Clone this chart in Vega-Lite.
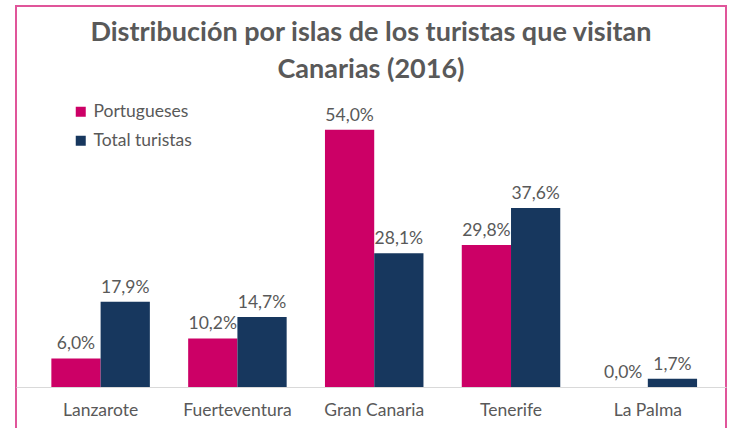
{
  "$schema": "https://vega.github.io/schema/vega-lite/v6.json",
  "autosize": "none",
  "width": 710,
  "height": 440,
  "padding": {"left": 16, "top": 6, "right": 11, "bottom": 0},
  "background": "white",
  "config": {
    "locale": {"number": {"decimal": ",", "thousands": ".", "grouping": [3], "currency": ["", " €"]}},
    "view": {"stroke": "#E0559A", "strokeWidth": 2},
    "font": "Lato"
  },
  "title": {
    "text": ["Distribución por islas de los turistas que visitan", "Canarias (2016)"],
    "anchor": "middle",
    "frame": "group",
    "orient": "top",
    "offset": -78,
    "fontSize": 27,
    "fontWeight": "bold",
    "color": "#595959",
    "font": "Lato",
    "lineHeight": 37,
    "baseline": "top"
  },
  "data": {
    "values": [
      {"isla": "Lanzarote", "serie": "Portugueses", "valor": 0.060},
      {"isla": "Lanzarote", "serie": "Total turistas", "valor": 0.179},
      {"isla": "Fuerteventura", "serie": "Portugueses", "valor": 0.102},
      {"isla": "Fuerteventura", "serie": "Total turistas", "valor": 0.147},
      {"isla": "Gran Canaria", "serie": "Portugueses", "valor": 0.540},
      {"isla": "Gran Canaria", "serie": "Total turistas", "valor": 0.281},
      {"isla": "Tenerife", "serie": "Portugueses", "valor": 0.298},
      {"isla": "Tenerife", "serie": "Total turistas", "valor": 0.376},
      {"isla": "La Palma", "serie": "Portugueses", "valor": 0.000},
      {"isla": "La Palma", "serie": "Total turistas", "valor": 0.017}
    ]
  },
  "encoding": {
    "x": {
      "field": "isla",
      "type": "nominal",
      "sort": null,
      "scale": {"paddingInner": 0.28, "paddingOuter": 0.235, "align": 0.55},
      "axis": {
        "title": null,
        "orient": "bottom",
        "offset": -59,
        "labelAngle": 0,
        "labelFontSize": 17.5,
        "labelColor": "#595959",
        "labelFont": "Lato",
        "labelPadding": 14,
        "ticks": false,
        "domainColor": "#D9D9D9",
        "domainWidth": 1
      }
    },
    "xOffset": {"field": "serie", "type": "nominal", "sort": ["Portugueses", "Total turistas"], "scale": {"paddingInner": 0}},
    "y": {
      "field": "valor",
      "type": "quantitative",
      "scale": {"domain": [-0.124, 0.8], "nice": false, "zero": false},
      "axis": null
    }
  },
  "layer": [
    {
      "mark": {"type": "bar"},
      "encoding": {
        "color": {
          "field": "serie",
          "type": "nominal",
          "sort": ["Portugueses", "Total turistas"],
          "scale": {"domain": ["Portugueses", "Total turistas"], "range": ["#CC0066", "#17375E"]},
          "legend": {
            "title": null,
            "orient": "none",
            "legendX": 56,
            "legendY": 97,
            "symbolType": "square",
            "symbolSize": 100,
            "symbolStrokeWidth": 0,
            "labelFontSize": 17.5,
            "labelColor": "#595959",
            "labelFont": "Lato",
            "rowPadding": 10,
            "labelOffset": 4
          }
        }
      }
    },
    {
      "mark": {"type": "text", "baseline": "bottom", "dy": -5, "fontSize": 17.5, "color": "#595959", "font": "Lato"},
      "encoding": {
        "text": {"field": "valor", "type": "quantitative", "format": ".1%"}
      }
    }
  ]
}
